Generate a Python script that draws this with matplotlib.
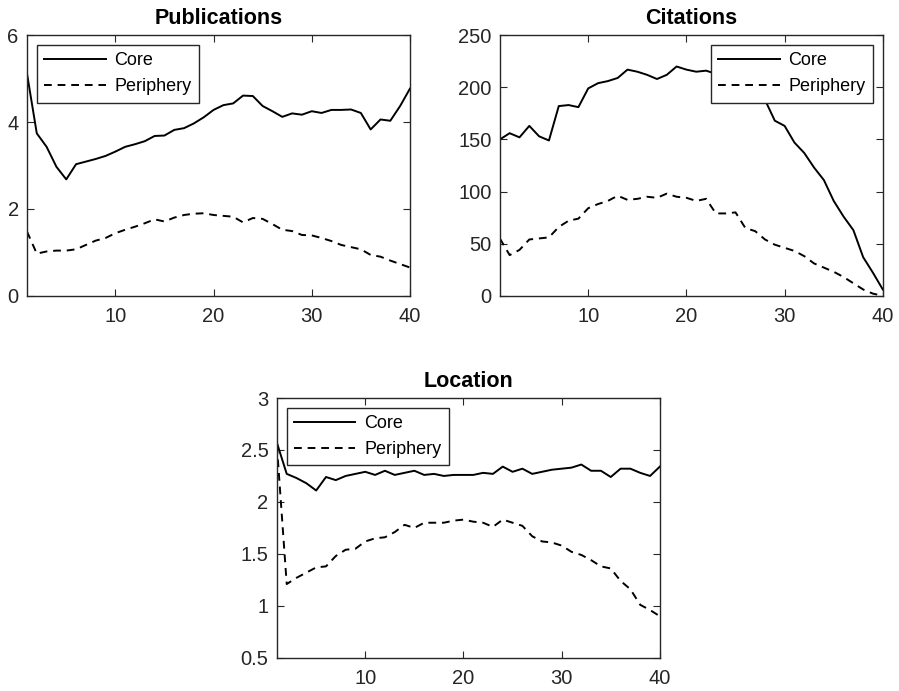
import numpy as np
import matplotlib
matplotlib.use("Agg")
import matplotlib.pyplot as plt

plt.rcParams["font.family"] = ["Liberation Sans", "DejaVu Sans"]

x = list(range(1, 41))

# Publications
pub_core = [5.12, 3.74, 3.43, 2.97, 2.68, 3.03, 3.09, 3.15, 3.22, 3.32,
            3.43, 3.49, 3.56, 3.68, 3.69, 3.82, 3.86, 3.97, 4.11, 4.28,
            4.39, 4.43, 4.61, 4.60, 4.37, 4.25, 4.12, 4.20, 4.17, 4.25,
            4.21, 4.28, 4.28, 4.29, 4.21, 3.83, 4.06, 4.03, 4.37, 4.77]
pub_peri = [1.48, 0.97, 1.02, 1.04, 1.04, 1.07, 1.17, 1.27, 1.33, 1.44,
            1.52, 1.59, 1.67, 1.76, 1.71, 1.80, 1.86, 1.89, 1.90, 1.86,
            1.84, 1.82, 1.69, 1.79, 1.77, 1.65, 1.52, 1.49, 1.40, 1.39,
            1.33, 1.26, 1.17, 1.12, 1.07, 0.94, 0.90, 0.81, 0.73, 0.65]

# Citations
cit_core = [150, 156, 152, 163, 153, 149, 182, 183, 181, 199,
            204, 206, 209, 217, 215, 212, 208, 212, 220, 217,
            215, 216, 213, 210, 205, 198, 186, 188, 168, 163,
            147, 137, 123, 111, 91, 76, 63, 37, 22, 6]
cit_peri = [55, 39, 44, 54, 55, 56, 66, 72, 74, 84,
            88, 91, 96, 92, 93, 95, 94, 98, 95, 94,
            91, 93, 79, 79, 80, 65, 62, 54, 49, 46,
            43, 38, 31, 27, 23, 18, 12, 6, 2, 0]

# Location
loc_core = [2.57, 2.27, 2.23, 2.18, 2.11, 2.24, 2.21, 2.25, 2.27, 2.29,
            2.26, 2.30, 2.26, 2.28, 2.30, 2.26, 2.27, 2.25, 2.26, 2.26,
            2.26, 2.28, 2.27, 2.34, 2.29, 2.32, 2.27, 2.29, 2.31, 2.32,
            2.33, 2.36, 2.30, 2.30, 2.24, 2.32, 2.32, 2.28, 2.25, 2.34]
loc_peri = [2.54, 1.21, 1.27, 1.32, 1.37, 1.38, 1.48, 1.54, 1.55, 1.62,
            1.65, 1.66, 1.71, 1.78, 1.75, 1.80, 1.80, 1.80, 1.82, 1.83,
            1.81, 1.80, 1.76, 1.83, 1.80, 1.77, 1.67, 1.62, 1.61, 1.58,
            1.52, 1.49, 1.44, 1.38, 1.36, 1.24, 1.16, 1.01, 0.96, 0.90]

panels = [
    ("Publications", pub_core, pub_peri, (0, 6), [0, 2, 4, 6], "upper left",
     [0.030, 0.572, 0.426, 0.377]),
    ("Citations", cit_core, cit_peri, (0, 250), [0, 50, 100, 150, 200, 250],
     "upper right", [0.556, 0.572, 0.426, 0.377]),
    ("Location", loc_core, loc_peri, (0.5, 3), [0.5, 1, 1.5, 2, 2.5, 3],
     "upper left", [0.308, 0.048, 0.426, 0.376]),
]

fig = plt.figure(figsize=(8.99, 6.91), dpi=100)
for title, core, peri, ylim, yticks, loc, rect in panels:
    ax = fig.add_axes(rect)
    ax.plot(x, core, color="black", linewidth=1.4, label="Core")
    ax.plot(x, peri, color="black", linewidth=1.4, linestyle=(0, (4, 3)),
            label="Periphery")
    ax.set_xlim(1, 40)
    ax.set_ylim(*ylim)
    ax.set_xticks([10, 20, 30, 40])
    ax.set_yticks(yticks)
    ax.set_yticklabels([f"{v:g}" for v in yticks])
    ax.tick_params(direction="in", top=True, right=True, labelsize=14.5,
                   colors="#262626", length=5, width=0.8)
    ax.tick_params(axis="x", pad=8)
    ax.tick_params(axis="y", pad=6)
    for s in ax.spines.values():
        s.set_color("#262626")
        s.set_linewidth(1.0)
    ax.set_title(title, fontsize=15.5, fontweight="bold", pad=8)
    leg = ax.legend(loc=loc, fontsize=13, fancybox=False, framealpha=1,
                    edgecolor="#262626", handlelength=3.4, borderpad=0.4,
                    borderaxespad=0.55, labelspacing=0.5, handletextpad=0.5)
    leg.get_frame().set_linewidth(1.0)

fig.savefig("out.png", dpi=100)
